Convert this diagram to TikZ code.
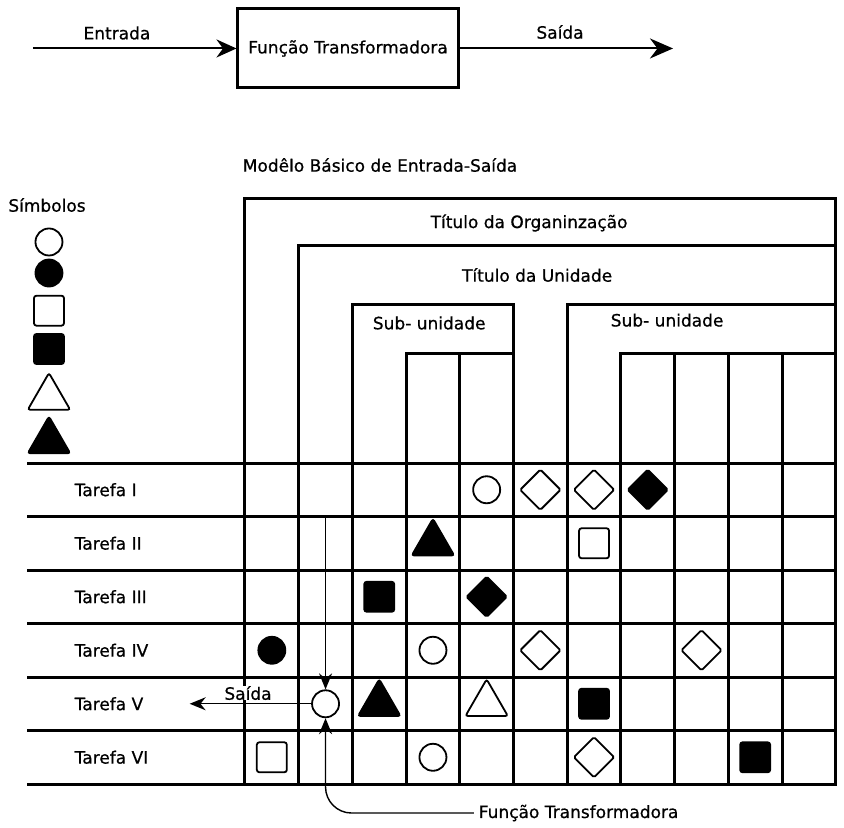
\documentclass[tikz,border=0pt]{standalone}
\usepackage{fontspec}
\setmainfont{DejaVu Sans}[FakeBold=0.7]
\usepackage{tikz}
\usetikzlibrary{arrows.meta, shapes.geometric, positioning}
\tikzset{>={Stealth[length=16pt,width=13pt]}}

\begin{document}
\begin{tikzpicture}[x=53.7pt, y=53.5pt, line width=3pt, font=\fontsize{17}{20}\selectfont,
    gridline/.style={line width=3pt, line cap=rect},
    sym/.style={line width=1.8pt, inner sep=0pt},
    ocirc/.style={sym, circle, draw, minimum size=27pt},
    fcirc/.style={ocirc, fill=black},
    osq/.style={sym, rectangle, draw, rounded corners=2.5pt, minimum size=30pt},
    fsq/.style={osq, fill=black},
    otri/.style={sym, regular polygon, regular polygon sides=3, draw, rounded corners=2.5pt, minimum size=49pt},
    ftri/.style={otri, fill=black},
    odia/.style={sym, diamond, draw, rounded corners=1.5pt, minimum size=41pt},
    fdia/.style={odia, fill=black},
    flow/.style={line width=1.4pt, ->}]
			\useasboundingbox (-4.562,-6.804) rectangle (11.154,8.654);
			% modelo basico
			\node (FT) at (1.918,7.748) [draw, minimum width=220pt, minimum height=79pt, inner sep=1pt]{Função Transformadora};
			\coordinate (IN) at (-3.948,7.748);
			\coordinate (OUT) at (7.97,7.748);
			\draw [->, line width=2pt, >={Stealth[length=20pt,width=18pt]}](IN)--(FT);
			\draw [->, line width=2pt, >={Stealth[length=23pt,width=20pt]}](FT)--(OUT);
			\node (EN) at (-2.384,8.037){Entrada};  \node (SA) at (5.866,8.056){Saída};
			\node (MB) at (2.514,5.57){Modêlo Básico de Entrada-Saída};
			% simbolos
			\node (SY) at (-3.687,4.822){Símbolos};
			\node (L1) at (-3.65,4.131) [ocirc]{};
			\node (L2) at (-3.65,3.551) [fcirc]{};
			\node (L3) at (-3.65,2.847) [osq]{};
			\node (L4) at (-3.65,2.131) [fsq]{};
			\node (L5) at (-3.65,1.224) [otri]{};
			\node (L6) at (-3.65,0.411) [ftri]{};
			% quadro
			\foreach \y in {0,...,6} \draw [gridline](-4.04,-\y)--(11,-\y);
			\draw [gridline](0,-6)--(0,4.95)--(11,4.95)--(11,-6);
			\draw [gridline](1,-6)--(1,4.07)--(11,4.07);
			\draw [gridline](2,-6)--(2,2.97)--(5,2.97)--(5,-6);
			\draw [gridline](6,-6)--(6,2.97)--(11,2.97);
			\draw [gridline](3,-6)--(3,2.04)--(5,2.04);
			\draw [gridline](7,-6)--(7,2.04)--(11,2.04);
			\foreach \x in {4,8,9,10} \draw [gridline](\x,2.04)--(\x,-6);
			\node (ORG) at (5.29,4.486){Título da Organinzação};
			\node (UNI) at (5.44,3.514){Título da Unidade};
			\node (SU1) at (3.43,2.617){Sub- unidade};
			\node (SU2) at (7.86,2.67){Sub- unidade};
			\node (T1) at (-3.26,-0.5) [right]{Tarefa I};
			\node (T2) at (-3.26,-1.5) [right]{Tarefa II};
			\node (T3) at (-3.26,-2.5) [right]{Tarefa III};
			\node (T4) at (-3.26,-3.5) [right]{Tarefa IV};
			\node (T5) at (-3.26,-4.5) [right]{Tarefa V};
			\node (T6) at (-3.26,-5.5) [right]{Tarefa VI};
			% tarefa I
			\node (A1) at (4.5,-0.5) [ocirc]{};  \node (A2) at (5.5,-0.5) [odia]{};
			\node (A3) at (6.5,-0.5) [odia]{};   \node (A4) at (7.5,-0.5) [fdia]{};
			% tarefa II
			\node (B1) at (3.5,-1.5) [ftri]{};   \node (B2) at (6.5,-1.5) [osq]{};
			% tarefa III
			\node (C1) at (2.5,-2.5) [fsq]{};    \node (C2) at (4.5,-2.5) [fdia]{};
			% tarefa IV
			\node (D1) at (0.5,-3.5) [fcirc]{};  \node (D2) at (3.5,-3.5) [ocirc]{};
			\node (D3) at (5.5,-3.5) [odia]{};   \node (D4) at (8.5,-3.5) [odia]{};
			% tarefa V
			\node (FC) at (1.5,-4.5) [ocirc]{};  \node (E2) at (2.5,-4.5) [ftri]{};
			\node (E3) at (4.5,-4.5) [otri]{};   \node (E4) at (6.5,-4.5) [fsq]{};
			% tarefa VI
			\node (F1) at (0.5,-5.5) [osq]{};    \node (F2) at (3.5,-5.5) [ocirc]{};
			\node (F3) at (6.5,-5.5) [odia]{};   \node (F4) at (9.5,-5.5) [fsq]{};
			% entrada e saida da funcao
			\coordinate (TOP) at (1.5,-1);
			\coordinate (SE) at (-1.03,-4.5);
			\draw [flow](TOP)--(FC);  \draw [flow](FC)--(SE);
			\node (SL) at (0.056,-4.30) [fill=white, inner sep=0.5pt]{Saída};
			\node (FL) at (4.264,-6.542) [right]{Função Transformadora};
			\draw [flow, rounded corners=26pt](FL.west) -| (FC.south);
		\end{tikzpicture}
\end{document}
